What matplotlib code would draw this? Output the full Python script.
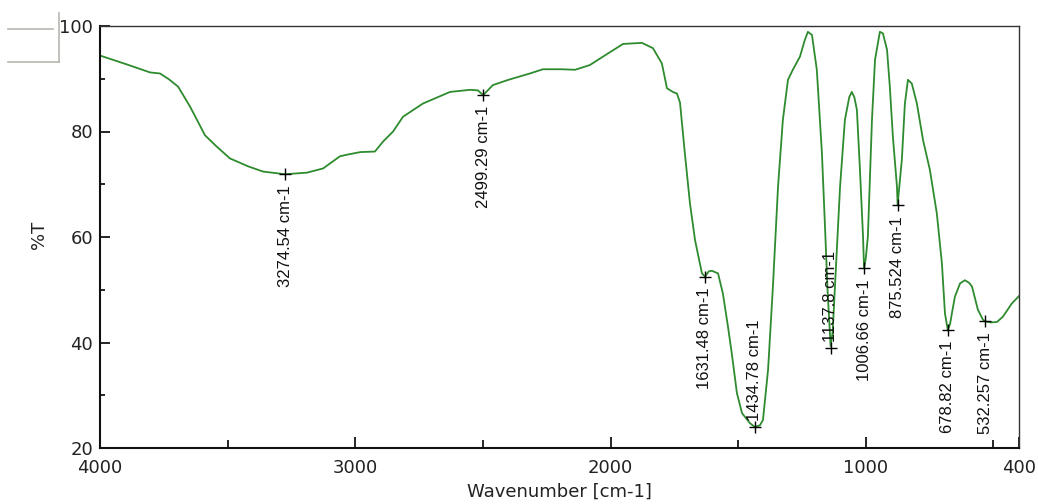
import matplotlib
matplotlib.use("Agg")
import matplotlib.pyplot as plt
from matplotlib.lines import Line2D

# ---- data ----
wavenumber = [4000, 3900, 3804, 3765, 3730, 3694, 3647, 3620, 3589, 3542, 3491, 3420,
              3361, 3275, 3189, 3126, 3060, 3033, 2980, 2923, 2891, 2852, 2813, 2735,
              2629, 2551, 2520, 2499, 2461, 2400, 2316, 2265, 2190, 2139, 2081, 2010,
              1951, 1877, 1834, 1799, 1779, 1756, 1740, 1728, 1709, 1689, 1669, 1642,
              1630, 1615, 1603, 1579, 1560, 1540, 1525, 1505, 1485, 1454, 1435, 1415,
              1403, 1383, 1364, 1344, 1325, 1305, 1286, 1258, 1240, 1227, 1211, 1192,
              1172, 1160, 1150, 1138, 1130, 1121, 1101, 1082, 1065, 1055, 1045, 1035,
              1023, 1011, 1007, 1000, 992, 976, 964, 945, 933, 917, 906, 894, 878, 875.5,
              868, 859, 847, 835, 820, 800, 776, 749, 722, 702, 690, 679, 670, 663, 651,
              631, 612, 595, 584, 561, 541, 532, 510, 486, 463, 428, 400]
transmittance = [94.4, 92.8, 91.2, 91.0, 89.9, 88.5, 84.7, 82.2, 79.3, 77.1, 74.9, 73.4,
                 72.4, 71.9, 72.2, 73.0, 75.3, 75.6, 76.1, 76.2, 78.1, 80.0, 82.8, 85.3,
                 87.5, 87.9, 87.8, 86.9, 88.8, 89.8, 91.0, 91.8, 91.8, 91.7, 92.6, 94.8,
                 96.6, 96.8, 95.8, 92.9, 88.2, 87.5, 87.2, 85.5, 75.9, 66.4, 59.4, 53.1,
                 52.5, 53.5, 53.6, 53.1, 49.3, 43.0, 37.9, 30.4, 26.6, 24.7, 24.0, 24.3,
                 25.3, 34.8, 50.6, 69.5, 82.2, 89.8, 91.7, 94.2, 97.2, 98.9, 98.3, 91.7,
                 75.9, 62.0, 50.0, 39.3, 42.0, 50.6, 69.5, 82.2, 86.5, 87.5, 86.5, 84.1,
                 72.7, 60.1, 54.1, 56.0, 60.1, 82.2, 93.6, 98.9, 98.6, 95.5, 88.5, 79.0,
                 69.5, 66.1, 70.0, 74.6, 85.3, 89.8, 89.1, 85.3, 78.4, 72.7, 64.5, 55.0,
                 45.5, 42.4, 43.5, 45.5, 48.7, 51.2, 51.8, 51.3, 50.6, 46.2, 44.3, 44.0,
                 43.8, 43.9, 44.9, 47.4, 48.8]

peak_wn = [3274.54, 2499.29, 1631.48, 1434.78, 1137.8, 1006.66, 875.524, 678.82, 532.257]
peak_t = [71.9, 86.9, 52.5, 24.0, 39.0, 54.1, 66.1, 42.4, 44.0]
peak_labels = ["3274.54 cm-1", "2499.29 cm-1", "1631.48 cm-1", "1434.78 cm-1",
               "1137.8 cm-1", "1006.66 cm-1", "875.524 cm-1", "678.82 cm-1",
               "532.257 cm-1"]
peak_side = ["below", "below", "below", "above", "above", "below", "below", "below", "below"]

xticks = [4000, 3000, 2000, 1000, 400]
xtick_labels = ["4000", "3000", "2000", "1000", "400"]
xminor = [3500, 2500, 1500, 500]
yticks = [20, 40, 60, 80, 100]
yminor = [30, 50, 70, 90]

# ---- figure ----
W, H = 1038, 504
fig = plt.figure(figsize=(W / 100, H / 100), dpi=100)
ax = fig.add_axes([100 / W, 1 - 448 / H, (1019 - 100) / W, (448 - 26) / H])

line_color = "#2e8b2e"
ax.plot(wavenumber, transmittance, color=line_color, lw=1.3)

ax.set_xlim(4000, 400)
ax.set_ylim(20, 100)

ax.set_xticks(xticks)
ax.set_xticklabels(xtick_labels)
ax.set_xticks(xminor, minor=True)
ax.set_yticks(yticks)
ax.set_yticks(yminor, minor=True)

ax.tick_params(axis="x", which="major", direction="in", length=8, width=1.2,
               pad=8, labelsize=13, colors="black")
ax.tick_params(axis="x", which="minor", direction="in", length=5.5, width=1.2)
ax.tick_params(axis="y", which="major", direction="in", length=7, width=1.2,
               pad=5, labelsize=13)
ax.tick_params(axis="y", which="minor", direction="in", length=3.6, width=1.2)
for lbl in ax.get_xticklabels() + ax.get_yticklabels():
    lbl.set_color("#222222")

for side in ["left", "bottom"]:
    ax.spines[side].set_linewidth(1.5)
    ax.spines[side].set_color("#111111")
for side in ["top", "right"]:
    ax.spines[side].set_linewidth(1.0)
    ax.spines[side].set_color("#333333")

ax.set_xlabel("Wavenumber [cm-1]", fontsize=13, color="#222222", labelpad=4)
ax.set_ylabel("%T", fontsize=13, color="#222222")
ax.yaxis.set_label_coords(-0.057, 0.505)

# peak markers and labels
label_font = ["Liberation Sans", "DejaVu Sans"]
for wn, t, lab, side in zip(peak_wn, peak_t, peak_labels, peak_side):
    ax.plot([wn], [t], marker="+", markersize=8, mew=1.0, color="black")
    if side == "below":
        ax.annotate(lab, (wn, t), xytext=(0, -8), textcoords="offset points",
                    rotation=90, ha="center", va="top", fontsize=12,
                    family=label_font, color="#111111")
    else:
        ax.annotate(lab, (wn, t), xytext=(0, 4), textcoords="offset points",
                    rotation=90, ha="center", va="bottom", fontsize=12,
                    family=label_font, color="#111111")

# grey legend-like frame at top-left
grey = "#b8b8b0"
fig.add_artist(Line2D([8 / W, 53 / W], [1 - 29 / H, 1 - 29 / H], color=grey, lw=1.2))
fig.add_artist(Line2D([59 / W, 59 / W], [1 - 13 / H, 1 - 62 / H], color=grey, lw=1.2))
fig.add_artist(Line2D([8 / W, 59 / W], [1 - 62 / H, 1 - 62 / H], color=grey, lw=1.2))

fig.savefig("out.png", dpi=100)
